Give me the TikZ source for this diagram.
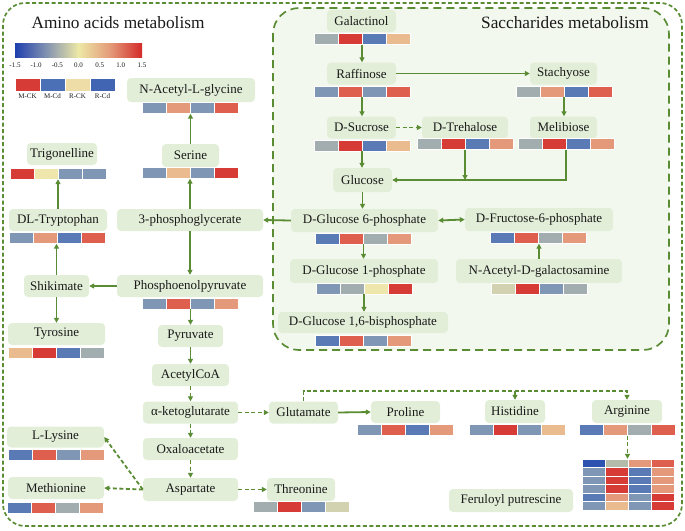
\documentclass[tikz,border=0pt]{standalone}
\usepackage{fontspec}
\setmainfont{Liberation Serif}
\usetikzlibrary{arrows.meta,calc}
\definecolor{grn}{HTML}{5A8C34}
\definecolor{nodef}{HTML}{E2EED8}
\definecolor{sacf}{HTML}{F3F8EE}
\definecolor{cR}{HTML}{D63B35}
\definecolor{cRO}{HTML}{DE5F4D}
\definecolor{cS}{HTML}{E49A7A}
\definecolor{cLS}{HTML}{EBBB90}
\definecolor{cY}{HTML}{EEE6AA}
\definecolor{cG}{HTML}{A1ADAE}
\definecolor{cGB}{HTML}{7F96B4}
\definecolor{cB}{HTML}{5A7AB6}
\definecolor{cDB}{HTML}{2E52B0}
\definecolor{cBe}{HTML}{D3D2B0}
\definecolor{cHG}{HTML}{B3BCAB}
\definecolor{txt}{HTML}{1A1A1A}
\definecolor{lgB1}{HTML}{4C70B6}
\definecolor{lgY}{HTML}{EEDDA6}
\definecolor{lgB2}{HTML}{4265B3}
\definecolor{cbl}{HTML}{1E3FAE}
\definecolor{cbq}{HTML}{8393B0}
\definecolor{cbm}{HTML}{EDE8A6}
\definecolor{cbs}{HTML}{E39A78}
\definecolor{cbr}{HTML}{D42A2A}
\newcommand\hmrow[7]{%
  \node[barbox] (#1) at (#2,#3) {};
  \foreach \cc [count=\ii from 0] in {#4,#5,#6,#7}
    \filldraw[fill=\cc,draw=white,line width=0.6pt] ({#2-48+24*\ii},{#3-5.5}) rectangle ++(24,11);
}
\begin{document}
\begin{tikzpicture}[x=1pt,y=-1pt,
  met/.style={rectangle,rounded corners=4pt,fill=nodef,draw=none,minimum height=22pt,
    inner sep=0pt,text=txt,font=\fontsize{13}{15}\selectfont},
  barbox/.style={rectangle,minimum width=96pt,minimum height=11pt,inner sep=0pt,draw=none},
  arr/.style={draw=grn,line width=1.8pt,-{Triangle[length=5pt,width=5pt]}},
  darr/.style={arr,dash pattern=on 4pt off 2.5pt},
  small/.style={font=\fontsize{7}{8}\selectfont,text=txt,inner sep=0pt},
  ttl/.style={font=\fontsize{17.3}{20}\selectfont,text=txt,inner sep=0pt}]
\useasboundingbox (0,0) rectangle (685,530);
% outer and inner region borders
\draw[grn,line width=1.7pt,dash pattern=on 4pt off 2.5pt,rounded corners=22pt] (3,3) rectangle (682,526);
\filldraw[fill=sacf,draw=grn,line width=1.7pt,dash pattern=on 8pt off 5pt,rounded corners=26pt] (273,8) rectangle (669,350);
% titles
\node[ttl] (tA) at (118,23) {Amino acids metabolism};
\node[ttl] (tS) at (565,23) {Saccharides metabolism};
% colour bar
\shade[left color=cbl,right color=cbm,middle color=cbq] (15,43) rectangle (78.5,57);
\shade[left color=cbm,right color=cbr,middle color=cbs] (78.5,43) rectangle (142,57);
\foreach \lab [count=\i from 0] in {-1.5,-1.0,-0.5,0.0,0.5,1.0,1.5}
  \node[small] (tk\i) at ({15+21.17*\i},65) {\lab};
% legend
\foreach \cc/\lab [count=\i from 0] in {cR/M-CK,lgB1/M-Cd,lgY/R-CK,lgB2/R-Cd}{
  \filldraw[fill=\cc,draw=white,line width=0.6pt] ({15+25*\i},78) rectangle ++(25,13);
  \node[small] (lg\i) at ({27.5+25*\i},96) {\lab};
}
% ---------- saccharides ----------
\node[met,minimum width=69pt] (gal) at (361.5,21) {Galactinol};
\hmrow{galB}{362}{39}{cG}{cR}{cB}{cLS}
\node[met,minimum width=69pt] (raf) at (361.5,73.5) {Raffinose};
\hmrow{rafB}{362}{91.5}{cGB}{cRO}{cGB}{cRO}
\node[met,minimum width=67pt] (sta) at (563.5,73.5) {Stachyose};
\hmrow{staB}{564}{91.5}{cG}{cS}{cB}{cRO}
\node[met,minimum width=69pt] (suc) at (361.5,127.5) {D-Sucrose};
\hmrow{sucB}{362}{145.5}{cG}{cR}{cB}{cLS}
\node[met,minimum width=86pt] (tre) at (465,127.5) {D-Trehalose};
\hmrow{treB}{465}{144}{cG}{cR}{cB}{cS}
\node[met,minimum width=67pt] (mel) at (563.5,127.5) {Melibiose};
\hmrow{melB}{566}{144}{cG}{cR}{cB}{cS}
\node[met,minimum width=59pt,minimum height=24pt] (glc) at (362.5,180) {Glucose};
\node[met,minimum width=147pt,minimum height=23pt] (g6p) at (364.5,220.5) {D-Glucose 6-phosphate};
\hmrow{g6pB}{363.5}{238.5}{cB}{cRO}{cG}{cS}
\node[met,minimum width=148pt,minimum height=23pt] (f6p) at (539,219.5) {D-Fructose-6-phosphate};
\hmrow{f6pB}{538.5}{238}{cB}{cRO}{cG}{cS}
\node[met,minimum width=166pt,minimum height=24pt] (nagal) at (539,271) {N-Acetyl-D-galactosamine};
\hmrow{nagalB}{539}{288.5}{cBe}{cR}{cGB}{cG}
\node[met,minimum width=148pt,minimum height=24pt] (g1p) at (364,271) {D-Glucose 1-phosphate};
\hmrow{g1pB}{364}{288.5}{cGB}{cG}{cY}{cR}
\node[met,minimum width=170pt,minimum height=21pt] (g16) at (363,322.5) {D-Glucose 1,6-bisphosphate};
\hmrow{g16B}{363.5}{340.5}{cB}{cRO}{cGB}{cS}
% ---------- amino acids ----------
\node[met,minimum width=128pt,minimum height=24pt] (nag) at (191,90) {N-Acetyl-L-glycine};
\hmrow{nagB}{190.5}{108}{cGB}{cS}{cGB}{cRO}
\node[met,minimum width=57pt,minimum height=23pt] (ser) at (190.5,155.5) {Serine};
\hmrow{serB}{190.5}{173}{cGB}{cLS}{cGB}{cR}
\node[met,minimum width=70pt] (trig) at (62,154) {Trigonelline};
\hmrow{trigB}{58}{173.5}{cR}{cY}{cGB}{cGB}
\node[met,minimum width=98pt] (trp) at (58,220) {DL-Tryptophan};
\hmrow{trpB}{57.5}{238}{cGB}{cS}{cB}{cRO}
\node[met,minimum width=146pt] (pg3) at (190,220) {3-phosphoglycerate};
\node[met,minimum width=146pt] (pep) at (190,286) {Phosphoenolpyruvate};
\hmrow{pepB}{190.5}{303.5}{cGB}{cRO}{cGB}{cS}
\node[met,minimum width=65pt] (shik) at (56.5,286) {Shikimate};
\node[met,minimum width=97pt] (tyr) at (56.5,334) {Tyrosine};
\hmrow{tyrB}{56.5}{353}{cLS}{cR}{cB}{cG}
\node[met,minimum width=65pt] (pyr) at (190.5,336) {Pyruvate};
\node[met,minimum width=77pt] (acoa) at (190.5,375) {AcetylCoA};
\node[met,minimum width=95pt] (akg) at (190.5,412.5) {α-ketoglutarate};
\node[met,minimum width=95pt] (oaa) at (190.5,449) {Oxaloacetate};
\node[met,minimum width=95pt,minimum height=23pt] (asp) at (190.5,489.5) {Aspartate};
\node[met,minimum width=69pt] (glu) at (303.5,412.5) {Glutamate};
\node[met,minimum width=97pt,minimum height=21pt] (lys) at (55.5,437) {L-Lysine};
\hmrow{lysB}{56}{455}{cB}{cRO}{cGB}{cS}
\node[met,minimum width=96pt] (met) at (56,488) {Methionine};
\hmrow{metB}{55.5}{507.5}{cB}{cRO}{cG}{cS}
\node[met,minimum width=68pt,minimum height=23pt] (thr) at (301,489.5) {Threonine};
\hmrow{thrB}{301}{507}{cG}{cR}{cGB}{cBe}
\node[met,minimum width=69pt] (pro) at (405.5,412) {Proline};
\hmrow{proB}{405.5}{430}{cGB}{cRO}{cB}{cS}
\node[met,minimum width=60pt,minimum height=23pt] (his) at (515,411.5) {Histidine};
\hmrow{hisB}{517}{430}{cGB}{cR}{cGB}{cLS}
\node[met,minimum width=70pt,minimum height=23pt] (arg) at (627,411.5) {Arginine};
\hmrow{argB}{627.5}{430}{cB}{cS}{cG}{cRO}
\node[met,minimum width=124pt,minimum height=23pt] (fer) at (511,500.5) {Feruloyl putrescine};
% heatmap block
\node[rectangle,minimum width=92pt,minimum height=51pt,inner sep=0pt] (hm) at (628,484.5) {};
\foreach \row [count=\r from 0] in {{cDB,cHG,cS,cRO},{cGB,cR,cB,cS},{cGB,cR,cB,cS},{cGB,cR,cB,cS},{cB,cS,cGB,cR},{cGB,cLS,cGB,cR}}
  \foreach \cc [count=\k from 0] in \row
    \filldraw[fill=\cc,draw=white,line width=0.6pt] ({582+23*\k},{459+8.5*\r}) rectangle ++(23,8.5);
% ---------- connectors: saccharides ----------
\draw[arr] (galB.south) -- (galB.south |- raf.north);
\draw[arr] (raf.east) -- (sta.west);
\draw[arr] (rafB.south) -- (rafB.south |- suc.north);
\draw[arr] (staB.south) -- (staB.south |- mel.north);
\draw[darr] (suc.east) -- (tre.west);
\draw[arr] (sucB.south) -- (sucB.south |- glc.north);
\draw[arr] (treB.south) -- (treB.south |- glc.east);
\draw[arr] (melB.south) |- (glc.east);
\draw[arr] (glc.south) -- (glc.south |- g6p.north);
\draw[arr] (g6p.west) -- (pg3.east);
\draw[arr,{Triangle[length=5pt,width=5pt]}-{Triangle[length=5pt,width=5pt]}] (g6p.east) -- (f6p.west);
\draw[arr] (nagal.north) -- (nagal.north |- f6pB.south);
\draw[arr] (g6pB.south) -- (g6pB.south |- g1p.north);
\draw[arr] (g1pB.south) -- (g1pB.south |- g16.north);
% ---------- connectors: amino acids ----------
\draw[arr] (ser.north) -- (ser.north |- nagB.south);
\draw[arr] (pg3.north) -- (pg3.north |- serB.south);
\draw[arr] (pg3.south) -- (pg3.south |- pep.north);
\draw[arr] (pep.west) -- (shik.east);
\draw[arr] (shik.north) -- (shik.north |- trpB.south);
\draw[arr] (shik.south) -- (shik.south |- tyr.north);
\draw[arr] (trp.north -| trigB.south) -- (trigB.south);
\draw[arr] (pepB.south) -- (pepB.south |- pyr.north);
\draw[arr] (pyr.south) -- (pyr.south |- acoa.north);
\draw[darr] (acoa.south) -- (acoa.south |- akg.north);
\draw[darr] (akg.south) -- (akg.south |- oaa.north);
\draw[darr] (oaa.south) -- (oaa.south |- asp.north);
\draw[darr] (akg.east) -- (glu.west);
\draw[arr] (glu.east) -- (pro.west);
\coordinate (jt) at ($(glu.north)+(0,-10)$);
\draw[darr] (glu.north) -- (jt) -| (arg.north);
\draw[darr] (jt -| his.north) -- (his.north);
\draw[darr] (argB.south) -- (argB.south |- hm.north);
\draw[darr] (asp.west) -- (met.east);
\draw[darr] (asp.west) -- (lys.east);
\draw[darr] (asp.east) -- (thr.west);
\end{tikzpicture}
\end{document}
